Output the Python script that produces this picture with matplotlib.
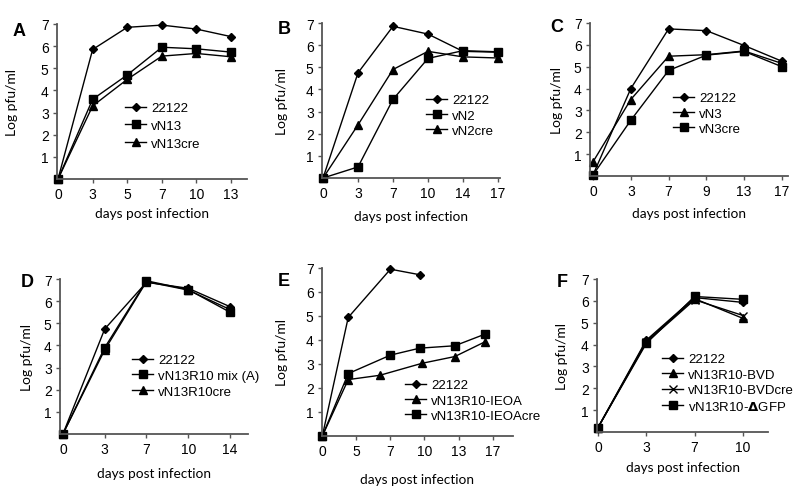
import numpy as np
import matplotlib
matplotlib.use('Agg')
import matplotlib.pyplot as plt

plt.rcParams['font.family'] = ['Liberation Sans', 'DejaVu Sans']

# ---------------- data (x = slot index on the evenly spaced day axis)
A_days = [0, 3, 5, 7, 10, 13]
A_x = [0, 1, 2, 3, 4, 5]
A_22122 = [0, 5.85, 6.85, 6.95, 6.77, 6.43]
A_vN13 = [0, 3.6, 4.7, 5.95, 5.88, 5.73]
A_vN13cre = [0, 3.3, 4.5, 5.55, 5.67, 5.52]

B_days = [0, 3, 7, 10, 14, 17]
B_x = [0, 1, 2, 3, 4, 5]
B_22122 = [0, 4.75, 6.85, 6.5, 5.72, 5.68]
B_vN2 = [0, 0.5, 3.55, 5.4, 5.75, 5.7]
B_vN2cre = [0, 2.4, 4.9, 5.72, 5.47, 5.42]

C_days = [0, 3, 7, 9, 13, 17]
C_x = [0, 1, 2, 3, 4, 5]
C_22122 = [0.05, 4.0, 6.73, 6.65, 5.97, 5.25]
C_vN3 = [0.65, 3.5, 5.48, 5.55, 5.72, 5.15]
C_vN3cre = [0.05, 2.55, 4.83, 5.53, 5.7, 5.0]

D_days = [0, 3, 7, 10, 14]
D_x = [0, 1, 2, 3, 4]
D_22122 = [0, 4.74, 6.85, 6.58, 5.75]
D_mix = [0, 3.9, 6.92, 6.52, 5.5]
D_cre = [0, 3.8, 6.88, 6.5, 5.62]

E_days = [0, 5, 7, 10, 13, 17]
E_x_22122 = [0, 0.76, 2.0, 2.86]
E_22122 = [0, 4.94, 6.95, 6.72]
E_x_ieoa = [0, 0.76, 1.69, 2.93, 3.89, 4.77]
E_ieoa = [0, 2.35, 2.53, 3.03, 3.31, 3.92]
E_x_ieoacre = [0, 0.76, 2.0, 2.86, 3.89, 4.77]
E_ieoacre = [0, 2.6, 3.37, 3.66, 3.76, 4.24]

F_days = [0, 3, 7, 10]
F_x = [0, 1, 2, 3]
F_22122 = [0.2, 4.2, 6.15, 5.93]
F_bvd = [0.2, 4.15, 6.1, 5.2]
F_bvdcre = [0.2, 4.1, 6.05, 5.33]
F_dgfp = [0.2, 4.05, 6.2, 6.07]

W, H = 800, 489
fig = plt.figure(figsize=(8, 4.89), dpi=100)
LABFONT = ['Lato', 'DejaVu Sans']

def px_axes(l, r, t, b):
    return fig.add_axes([l/W, 1-b/H, (r-l)/W, (b-t)/H])

mk = {'D': dict(marker='D', ms=4.2), 's': dict(marker='s', ms=5.8),
      '^': dict(marker='^', ms=6), 'x': dict(marker='x', ms=6, mew=1)}

def panel(box, days, xlim, series, letter, letter_xy, ylab_x, leg_xy, leg_sp, xlab_pad, leg_fs=9.5):
    ax = px_axes(*box)
    for xs, ys, m, lab in series:
        ax.plot(xs, ys, color='black', lw=1.0, label=lab, mec='black', mfc='black', clip_on=False, **mk[m])
    ax.set_xlim(xlim)
    ax.set_ylim(0, 7)
    ax.set_xticks(range(len(days)))
    ax.set_xticklabels([str(d) for d in days])
    ax.set_yticks([1, 2, 3, 4, 5, 6, 7])
    for s in ['top', 'right']:
        ax.spines[s].set_visible(False)
    for s in ['left', 'bottom']:
        ax.spines[s].set_color('#555555')
        ax.spines[s].set_linewidth(1.3)
    ax.tick_params(direction='out', length=3, width=1, color='#555555', labelsize=10, pad=3)
    ax.set_xlabel('days post infection', fontsize=9.8, family=LABFONT, labelpad=xlab_pad)
    ax.set_ylabel('Log pfu/ml', fontsize=10, family=LABFONT)
    ax.yaxis.set_label_coords(ylab_x, 0.5)
    ax.legend(loc='upper left', bbox_to_anchor=(leg_xy[0]/W, 1-leg_xy[1]/H), bbox_transform=fig.transFigure,
              frameon=False, fontsize=leg_fs, borderpad=0, borderaxespad=0, handlelength=1.6,
              handletextpad=0.4, labelspacing=leg_sp)
    fig.text(letter_xy[0]/W, 1-letter_xy[1]/H, letter, fontsize=13, fontweight='bold', ha='center', va='center')
    return ax

panel((57, 247, 25, 180), A_days, (-0.03, 5.46),
      [(A_x, A_22122, 'D', '22122'), (A_x, A_vN13, 's', 'vN13'), (A_x, A_vN13cre, '^', 'vN13cre')],
      'A', (19, 32), -0.205, (125, 103), 0.42, 4)
panel((322, 500, 24, 179), B_days, (-0.03, 5.06),
      [(B_x, B_22122, 'D', '22122'), (B_x, B_vN2, 's', 'vN2'), (B_x, B_vN2cre, '^', 'vN2cre')],
      'B', (284, 29), -0.19, (426, 95), 0.23, 7)
panel((590, 788, 24, 177), C_days, (-0.08, 5.16),
      [(C_x, C_22122, 'D', '22122'), (C_x, C_vN3, '^', 'vN3'), (C_x, C_vN3cre, 's', 'vN3cre')],
      'C', (557, 27), -0.136, (673, 93), 0.23, 6.5)
panel((60, 248, 280, 435), D_days, (-0.07, 4.43),
      [(D_x, D_22122, 'D', '22122'), (D_x, D_mix, 's', 'vN13R10 mix (A)'), (D_x, D_cre, '^', 'vN13R10cre')],
      'D', (27, 283), -0.144, (132, 355), 0.26, 8)
panel((322, 513, 269, 437), E_days, (-0.01, 5.6),
      [(E_x_22122, E_22122, 'D', '22122'), (E_x_ieoa, E_ieoa, '^', 'vN13R10-IEOA'),
       (E_x_ieoacre, E_ieoacre, 's', 'vN13R10-IEOAcre')],
      'E', (284, 282), -0.178, (405, 380), 0.23, 10.5)
panel((597, 768, 280, 433), F_days, (-0.02, 3.52),
      [(F_x, F_22122, 'D', '22122'), (F_x, F_bvd, '^', 'vN13R10-BVD'), (F_x, F_bvdcre, 'x', 'vN13R10-BVDcre'),
       (F_x, F_dgfp, 's', r'vN13R10-$\mathbf{\Delta}$GFP')],
      'F', (562, 283), -0.17, (662, 354), 0.25, 5)

fig.savefig('out.png', dpi=100, facecolor='w')
